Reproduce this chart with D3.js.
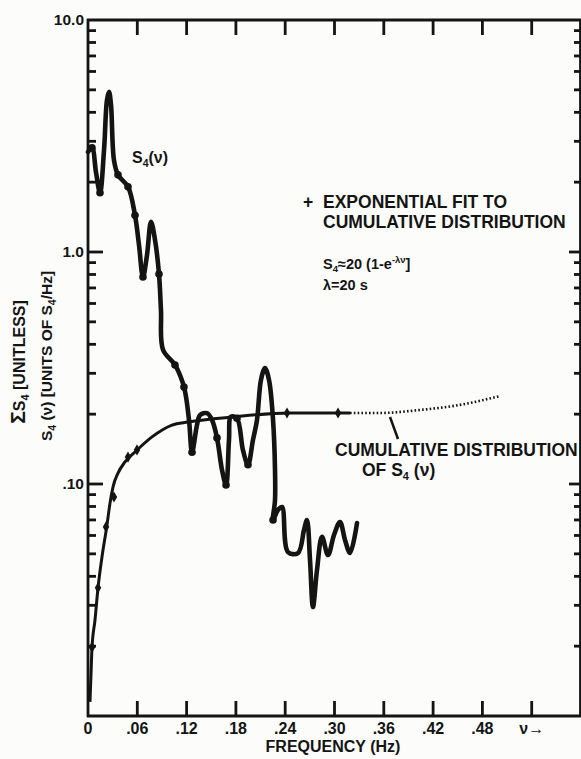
<!DOCTYPE html>
<html><head><meta charset="utf-8">
<script src="https://cdn.jsdelivr.net/npm/d3@7"></script>
<style>
html,body{margin:0;padding:0;background:#fcfcfb;}
svg{display:block;font-family:"Liberation Sans",Arial,sans-serif;font-weight:bold;}
</style></head>
<body><svg id="c" width="581" height="759"></svg>
<script>
// ---- data ----
const xTickValues = [0, 0.06, 0.12, 0.18, 0.24, 0.30, 0.36, 0.42, 0.48, 0.54];
const xTickLabels = ["0", ".06", ".12", ".18", ".24", ".30", ".36", ".42", ".48", "ν→"];
const yTickValues = [10, 1, 0.1];
const yTickLabels = ["10.0", "1.0", ".10"];

const freqS4 = [0,0.0049,0.0097,0.0146,0.0195,0.0231,0.0256,0.028,0.0316,0.0365,0.0487,0.0572,0.0621,0.0669,0.0718,0.0767,0.0815,0.0864,0.0888,0.0913,0.1059,0.1168,0.1229,0.1266,0.1327,0.1363,0.1448,0.1509,0.157,0.1631,0.168,0.1716,0.174,0.1813,0.1886,0.1947,0.2008,0.2057,0.2105,0.2154,0.2203,0.2252,0.2276,0.2276,0.2252,0.2312,0.2361,0.2434,0.2556,0.2629,0.2665,0.2702,0.2738,0.2787,0.2848,0.2921,0.2994,0.3067,0.3128,0.3189,0.3274];
const valS4 = [2.70,2.81,2.21,1.80,2.75,4.52,4.90,4.31,2.49,2.15,1.91,1.44,1.07,0.780,0.970,1.35,1.13,0.804,0.562,0.379,0.326,0.262,0.189,0.137,0.180,0.198,0.202,0.189,0.158,0.115,0.099,0.155,0.195,0.192,0.140,0.121,0.155,0.189,0.281,0.316,0.281,0.189,0.115,0.0853,0.070,0.0773,0.0796,0.0509,0.0504,0.0634,0.070,0.047,0.0295,0.0426,0.0592,0.0494,0.0603,0.0686,0.0574,0.0504,0.0679];
const s4DotIndex = [1,3,9,10,11,13,17,20,21,23,28,30,33,35,44];

const freqCum = [0.0024,0.0037,0.0049,0.0085,0.0122,0.017,0.0231,0.0268,0.0304,0.0365,0.045,0.0572,0.0779,0.1022,0.1217,0.1765,0.2458,0.3189];
const valCum = [0.0115,0.0153,0.0198,0.0259,0.0357,0.0484,0.0665,0.0828,0.097,0.1114,0.1245,0.1374,0.1596,0.1795,0.185,0.1945,0.2023,0.2023];
const freqExt = [0.3189,0.3554,0.404,0.4527,0.5014];
const valExt = [0.2023,0.2023,0.2085,0.2193,0.2394];
const freqFit = [0.0049,0.0122,0.0219,0.0316,0.0487,0.0596,0.2422,0.3043];
const valFit = [0.0198,0.0357,0.0653,0.0879,0.1306,0.1403,0.2023,0.2023];

// ---- drawing ----
const ink = "#141414";
const svg = d3.select("#c");
const x = d3.scaleLinear().domain([0, 0.6]).range([88, 581]);
const y = d3.scaleLog().domain([0.01, 10]).range([716, 20]);
const X0 = x(0), X1 = x(0.6), Y0 = y(0.01), Y1 = y(10);

const minors = [];
[0.01, 0.1, 1].forEach(d => { for (let k = 2; k <= 9; k++) minors.push(d * k); });

const ax = svg.append("g").attr("stroke", ink).attr("stroke-width", 2.8).attr("fill", "none");
ax.append("line").attr("x1", X0).attr("x2", X0).attr("y1", Y1 - 1).attr("y2", Y0 + 1);
ax.append("line").attr("x1", X0 - 1).attr("x2", X1).attr("y1", Y1).attr("y2", Y1);
ax.append("line").attr("x1", X0 - 1).attr("x2", X1).attr("y1", Y0).attr("y2", Y0);
ax.append("line").attr("x1", X1 - 0.5).attr("x2", X1 - 0.5).attr("y1", Y1).attr("y2", Y0);

minors.forEach(v => ax.append("line").attr("x1", X0).attr("x2", X0 + 8).attr("y1", y(v)).attr("y2", y(v)));
[0.1, 1].forEach(v => ax.append("line").attr("x1", X0).attr("x2", X0 + 15).attr("y1", y(v)).attr("y2", y(v)));
minors.forEach(v => ax.append("line").attr("x1", X1).attr("x2", X1 - 7).attr("y1", y(v)).attr("y2", y(v)));
[0.1, 1].forEach(v => ax.append("line").attr("x1", X1).attr("x2", X1 - 12).attr("y1", y(v)).attr("y2", y(v)));
xTickValues.slice(1).forEach(v => {
  ax.append("line").attr("x1", x(v)).attr("x2", x(v)).attr("y1", Y1).attr("y2", Y1 + 15);
  ax.append("line").attr("x1", x(v)).attr("x2", x(v)).attr("y1", Y0).attr("y2", Y0 - 15);
});

const tl = svg.append("g").attr("fill", ink).attr("font-weight", 700);
xTickValues.forEach((v, i) => tl.append("text").attr("x", x(v)).attr("y", 734)
  .attr("text-anchor", "middle").attr("font-size", 16).text(xTickLabels[i]));
yTickValues.forEach((v, i) => tl.append("text").attr("x", 84).attr("y", y(v) + 5)
  .attr("text-anchor", "end").attr("font-size", 15.5).text(yTickLabels[i]));

tl.append("text").attr("x", 333).attr("y", 752).attr("text-anchor", "middle")
  .attr("font-size", 16).text("FREQUENCY (Hz)");
const yt1 = tl.append("text").attr("transform", "translate(25,362) rotate(-90)")
  .attr("text-anchor", "middle").attr("font-size", 16);
yt1.append("tspan").attr("font-size", 21).text("Σ");
yt1.append("tspan").text("S");
yt1.append("tspan").attr("font-size", 11).attr("dy", 4).text("4");
yt1.append("tspan").attr("dy", -4).text(" [UNITLESS]");
const yt2 = tl.append("text").attr("transform", "translate(52,356) rotate(-90)")
  .attr("text-anchor", "middle").attr("font-size", 15.5);
yt2.append("tspan").text("S");
yt2.append("tspan").attr("font-size", 10.5).attr("dy", 4).text("4");
yt2.append("tspan").attr("dy", -4).text(" (ν) [UNITS OF S");
yt2.append("tspan").attr("font-size", 10.5).attr("dy", 4).text("4");
yt2.append("tspan").attr("dy", -4).text("/Hz]");

const cumData = freqCum.map((f, i) => [f, valCum[i]]);
const extData = freqExt.map((f, i) => [f, valExt[i]]);
const lineMono = d3.line().x(d => x(d[0])).y(d => y(d[1])).curve(d3.curveMonotoneX);
svg.append("path").attr("d", lineMono(cumData)).attr("fill", "none")
  .attr("stroke", ink).attr("stroke-width", 3).attr("stroke-linejoin", "round");
svg.append("path").attr("d", lineMono(extData)).attr("fill", "none")
  .attr("stroke", ink).attr("stroke-width", 2.6).attr("stroke-dasharray", "1.6,2.2");

const s4Data = freqS4.map((f, i) => [f, valS4[i]]);
const lineCR = d3.line().x(d => x(d[0])).y(d => y(d[1])).curve(d3.curveCatmullRom.alpha(0.5));
svg.append("path").attr("d", lineCR(s4Data)).attr("fill", "none")
  .attr("stroke", ink).attr("stroke-width", 4.6).attr("stroke-linejoin", "round").attr("stroke-linecap", "round");
svg.append("g").selectAll("circle").data(s4DotIndex.map(i => s4Data[i])).join("circle")
  .attr("cx", d => x(d[0])).attr("cy", d => y(d[1])).attr("r", 3.8).attr("fill", ink);

const fitData = freqFit.map((f, i) => [f, valFit[i]]);
svg.append("g").selectAll("path").data(fitData).join("path")
  .attr("transform", d => `translate(${x(d[0])},${y(d[1])})`)
  .attr("d", d3.symbol().type(d3.symbolDiamond).size(36)).attr("fill", ink);

const an = svg.append("g").attr("fill", ink).attr("font-weight", 700);
const s4lab = an.append("text").attr("x", 132).attr("y", 163).attr("font-size", 16);
s4lab.append("tspan").text("S");
s4lab.append("tspan").attr("font-size", 10.5).attr("dy", 4).text("4");
s4lab.append("tspan").attr("dy", -4).text("(ν)");

an.append("text").attr("x", 303).attr("y", 208).attr("font-size", 17.5).text("+");
an.append("text").attr("x", 323).attr("y", 208).attr("font-size", 17.5).text("EXPONENTIAL FIT TO");
an.append("text").attr("x", 323).attr("y", 228).attr("font-size", 17.5).text("CUMULATIVE DISTRIBUTION");
const f1 = an.append("text").attr("x", 323).attr("y", 269).attr("font-size", 14.5);
f1.append("tspan").text("S");
f1.append("tspan").attr("font-size", 9.5).attr("dy", 3).text("4");
f1.append("tspan").attr("dy", -3).text("≈20 (1-e");
f1.append("tspan").attr("font-size", 9.5).attr("dy", -6).text("-λν");
f1.append("tspan").attr("dy", 6).text("]");
an.append("text").attr("x", 323).attr("y", 290).attr("font-size", 14.5).text("λ=20 s");

an.append("text").attr("x", 335).attr("y", 456).attr("font-size", 17.5).text("CUMULATIVE DISTRIBUTION");
const of = an.append("text").attr("x", 362).attr("y", 476).attr("font-size", 17.5);
of.append("tspan").text("OF S");
of.append("tspan").attr("font-size", 11).attr("dy", 4).text("4");
of.append("tspan").attr("dy", -4).text(" (ν)");
svg.append("line").attr("x1", 390).attr("y1", 417).attr("x2", 398).attr("y2", 439)
  .attr("stroke", ink).attr("stroke-width", 2.5);
</script></body></html>
